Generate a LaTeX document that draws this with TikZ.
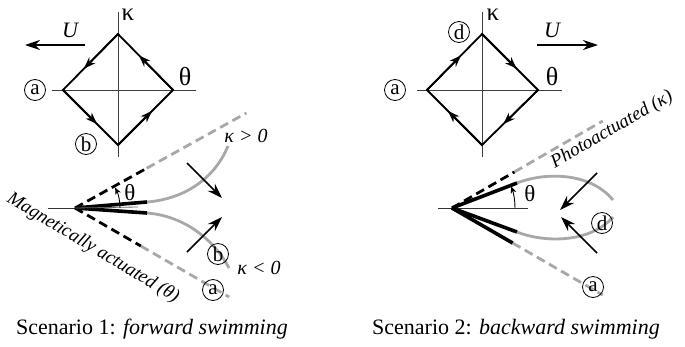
\documentclass[tikz,border=0pt]{standalone}
\usepackage{fontspec}
\setmainfont{Liberation Serif}
\usetikzlibrary{arrows.meta,calc}
\definecolor{lg}{gray}{0.66}
\begin{document}
\begin{tikzpicture}[x=1pt,y=-1pt,
 edgeline/.style={line width=1.8pt},
 edgetip/.style={line width=1.8pt, -{Stealth[length=12pt,width=8.5pt]}},
 axis/.style={line width=0.9pt, black!75},
 circ/.style={circle, draw, line width=0.8pt, inner sep=0pt, minimum size=21pt, font=\fontsize{21}{21}\selectfont},
 lbl/.style={font=\fontsize{25}{25}\selectfont, inner sep=0pt},
 ulbl/.style={font=\fontsize{22}{22}\selectfont\itshape, inner sep=0pt},
 bigarrow/.style={line width=1.7pt, -{Stealth[length=15pt,width=10pt]}},
 blackdash/.style={line width=2.8pt, dash pattern=on 9pt off 5pt, black},
 greydash/.style={line width=2.8pt, dash pattern=on 9pt off 5pt, lg},
 thickfil/.style={line width=3.6pt, black},
 greyfil/.style={line width=2.8pt, lg},
 thinline/.style={line width=0.8pt, black!80},
 angarrow/.style={line width=0.9pt, -{Stealth[length=7pt,width=6pt]}},
 captxt/.style={font=\fontsize{22}{22}\selectfont, inner sep=0pt},
 rot/.style={font=\fontsize{19}{19}\selectfont\itshape, inner sep=0pt}
]
\useasboundingbox (0,0) rectangle (685,346);

% ================= Scenario 1 (left) =================
\coordinate (LT) at (118,34);
\coordinate (LL) at (63,90);
\coordinate (LR) at (173,90);
\coordinate (LB) at (118,145);
\coordinate (LHa) at (52,90);
\coordinate (LHb) at (196,90);
\coordinate (LVa) at (118,12);
\coordinate (LVb) at (118,157);
\draw[axis] (LHa) -- (LHb);
\draw[axis] (LVa) -- (LVb);
\draw[edgeline] (LT) -- (LL) -- (LB) -- (LR) -- cycle;
\draw[edgetip] (LT) -- ($(LT)!0.62!(LL)$);
\draw[edgetip] (LL) -- ($(LL)!0.62!(LB)$);
\draw[edgetip] (LB) -- ($(LB)!0.62!(LR)$);
\draw[edgetip] (LR) -- ($(LR)!0.62!(LT)$);
\node[lbl] (LkapT) at (128,15) {κ};
\node[lbl, font=\fontsize{26}{26}\selectfont] (LthT) at (185,77) {θ};
\node[ulbl] (LU) at (70,30) {U};
\coordinate (LUa) at (85,45);
\coordinate (LUb) at (25,45);
\draw[bigarrow] (LUa) -- (LUb);
\node[circ] (La) at (35,90) {a};
\node[circ] (Lb) at (86,144) {b};

% swimmer
\coordinate (LA) at (75,208);
\coordinate (LH0) at (48,208);
\coordinate (LH1) at (138,207);
\draw[thinline] (LH0) -- (LA);
\coordinate (LDu1) at ($(LA)+(-29:82)$);
\coordinate (LDu2) at ($(LA)+(-29:196)$);
\coordinate (LDl1) at ($(LA)+(30:76)$);
\coordinate (LDl2) at ($(LA)+(30:178)$);
\draw[greydash] (LDu1) -- (LDu2);
\draw[greydash] (LDl1) -- (LDl2);
\draw[blackdash] (LA) -- (LDu1);
\draw[blackdash] (LA) -- (LDl1);
\coordinate (LFu) at (147,202);
\coordinate (LFl) at (147,213);
\coordinate (LCu) at (228,146);
\coordinate (LCl) at (229,268);
\draw[greyfil] (LFu) .. controls (185,199) and (215,178) .. (LCu);
\draw[greyfil] (LFl) .. controls (185,216) and (214,240) .. (LCl);
\draw[thickfil] (LA) -- (LFu);
\draw[thickfil] (LA) -- (LFl);
\draw[thinline, black!60] (LA) -- (LH1);
\coordinate (LArc) at ($(LA)+(45,0)$);
\draw[angarrow] (LArc) arc[start angle=0, end angle=-27, radius=45];
\node[lbl, font=\fontsize{23}{23}\selectfont] (LthB) at (130,193) {θ};
\coordinate (LA1s) at (187,163);
\coordinate (LA1e) at (222,198);
\coordinate (LA2s) at (187,252);
\coordinate (LA2e) at (222,217);
\draw[bigarrow] (LA1s) -- (LA1e);
\draw[bigarrow] (LA2s) -- (LA2e);
\node[ulbl, font=\fontsize{20}{20}\selectfont\itshape] (Lkp) at (246,136) {κ > 0};
\node[ulbl, font=\fontsize{20}{20}\selectfont\itshape] (Lkn) at (259,268) {κ < 0};
\node[circ] (Lbb) at (218,254) {b};
\node[circ] (Lab) at (213,290) {a};
\node[rot, rotate=-31] (Lmag) at (93,248) {Magnetically actuated (θ)};
\node[captxt] (Lcap) at (152,329) {Scenario 1: \textit{forward swimming}};

% ================= Scenario 2 (right) =================
\coordinate (RT) at (482,34);
\coordinate (RL) at (427,90);
\coordinate (RR) at (538,90);
\coordinate (RB) at (482,145);
\coordinate (RHa) at (417,90);
\coordinate (RHb) at (562,90);
\coordinate (RVa) at (482,12);
\coordinate (RVb) at (482,157);
\draw[axis] (RHa) -- (RHb);
\draw[axis] (RVa) -- (RVb);
\draw[edgeline] (RL) -- (RT) -- (RR) -- (RB) -- cycle;
\draw[edgetip] (RL) -- ($(RL)!0.62!(RT)$);
\draw[edgetip] (RT) -- ($(RT)!0.62!(RR)$);
\draw[edgetip] (RR) -- ($(RR)!0.62!(RB)$);
\draw[edgetip] (RB) -- ($(RB)!0.62!(RL)$);
\node[lbl] (RkapT) at (493,15) {κ};
\node[lbl, font=\fontsize{26}{26}\selectfont] (RthT) at (552,77) {θ};
\node[ulbl] (RU) at (552,30) {U};
\coordinate (RUa) at (537,45);
\coordinate (RUb) at (598,45);
\draw[bigarrow] (RUa) -- (RUb);
\node[circ] (Rd) at (459,32) {d};
\node[circ] (Ra) at (395,90) {a};

% swimmer
\coordinate (RA) at (452,208);
\coordinate (RH0) at (438,208);
\coordinate (RH1) at (528,208);
\draw[thinline] (RH0) -- (RH1);
\coordinate (RDu1) at ($(RA)+(-30:72)$);
\coordinate (RDu2) at ($(RA)+(-30:174)$);
\coordinate (RDl1) at ($(RA)+(30:70)$);
\coordinate (RDl2) at ($(RA)+(30:174)$);
\draw[greydash] (RDu1) -- (RDu2);
\draw[greydash] (RDl1) -- (RDl2);
\draw[blackdash] (RA) -- (RDu1);
\draw[thickfil] (RA) -- (RDl1);
\coordinate (RFu) at (517,183);
\coordinate (RFl) at (517,232);
\coordinate (RCu) at (613,200);
\coordinate (RCl) at (613,217);
\draw[greyfil] (RFu) .. controls (545,172) and (590,172) .. (RCu);
\draw[greyfil] (RFl) .. controls (545,243) and (590,243) .. (RCl);
\draw[thickfil] (RA) -- (RFu);
\draw[thickfil] (RA) -- (RFl);
\coordinate (RArc) at ($(RA)+(63,0)$);
\draw[angarrow] (RArc) arc[start angle=0, end angle=-20, radius=63];
\node[lbl, font=\fontsize{23}{23}\selectfont] (RthB) at (530,194) {θ};
\coordinate (RA1s) at (597,173);
\coordinate (RA1e) at (560,210);
\coordinate (RA2s) at (597,253);
\coordinate (RA2e) at (561,217);
\draw[bigarrow] (RA1s) -- (RA1e);
\draw[bigarrow] (RA2s) -- (RA2e);
\node[circ] (Rdb) at (602,223) {d};
\node[circ] (Rab) at (593,287) {a};
\node[rot, rotate=30] (Rph) at (612,130) {Photoactuated (κ)};
\node[captxt] (Rcap) at (516,329) {Scenario 2: \textit{backward swimming}};
\end{tikzpicture}
\end{document}
